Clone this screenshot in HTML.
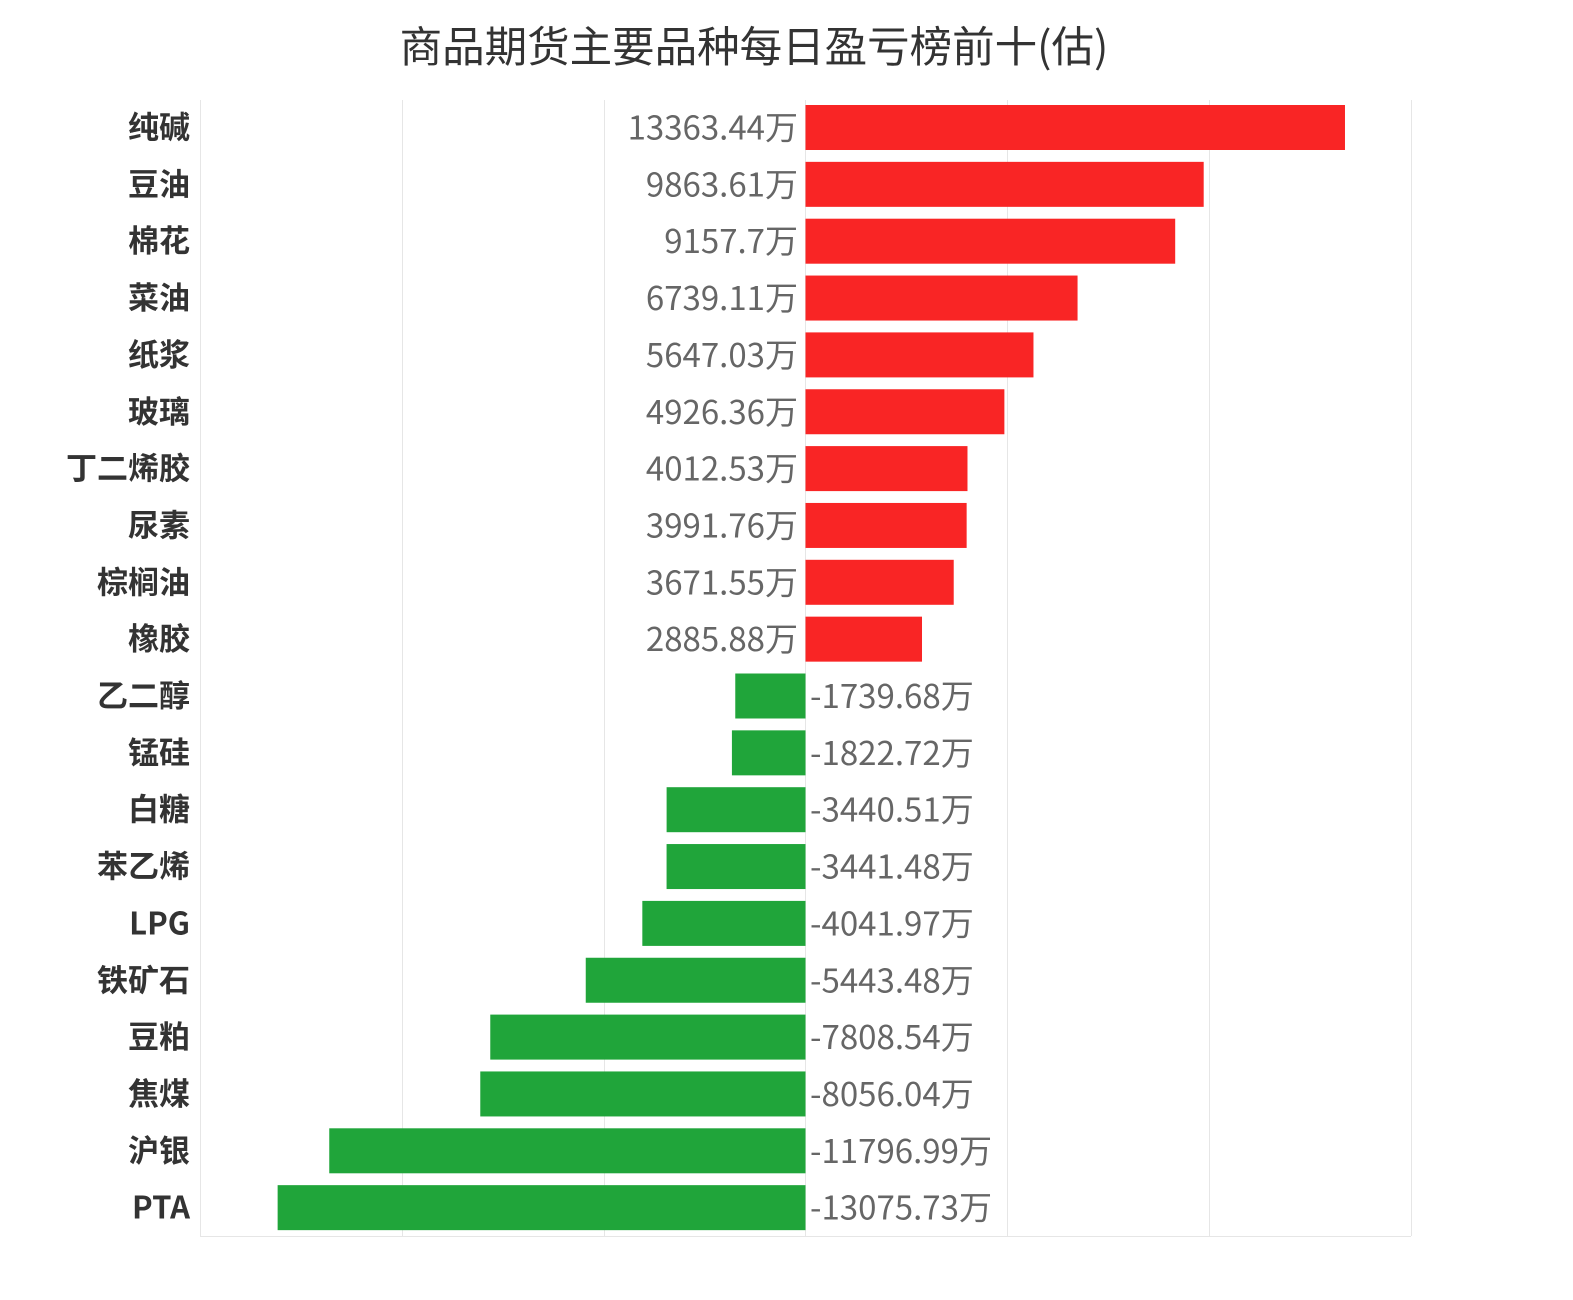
<!DOCTYPE html>
<html><head><meta charset="utf-8"><style>body{margin:0;background:#fff}svg{display:block}</style></head>
<body>
<svg width="1573" height="1300" xmlns="http://www.w3.org/2000/svg" font-family="'Noto Sans CJK SC','Liberation Sans',sans-serif">
<text x="754" y="62" text-anchor="middle" font-size="42.5" fill="#333">商品期货主要品种每日盈亏榜前十(估)</text>
<g stroke="#e6e6e6" stroke-width="1">
<line x1="200.5" y1="100" x2="200.5" y2="1236"/>
<line x1="402.5" y1="100" x2="402.5" y2="1236"/>
<line x1="604.5" y1="100" x2="604.5" y2="1236"/>
<line x1="805.5" y1="100" x2="805.5" y2="1236"/>
<line x1="1007.5" y1="100" x2="1007.5" y2="1236"/>
<line x1="1209.5" y1="100" x2="1209.5" y2="1236"/>
<line x1="1411.5" y1="100" x2="1411.5" y2="1236"/>
<line x1="200" y1="1236.5" x2="1411" y2="1236.5"/>
</g>
<g id="bars"></g>
</svg>
<script>
var d=[["纯碱",13363.44],["豆油",9863.61],["棉花",9157.7],["菜油",6739.11],["纸浆",5647.03],["玻璃",4926.36],["丁二烯胶",4012.53],["尿素",3991.76],["棕榈油",3671.55],["橡胶",2885.88],["乙二醇",-1739.68],["锰硅",-1822.72],["白糖",-3440.51],["苯乙烯",-3441.48],["LPG",-4041.97],["铁矿石",-5443.48],["豆粕",-7808.54],["焦煤",-8056.04],["沪银",-11796.99],["PTA",-13075.73]];
var g=document.getElementById('bars'),s='',k=0.04037,z=805.5;
d.forEach(function(r,i){var y=105+i*56.85,c=y+22.5,w=Math.abs(r[1])*k;
if(r[1]>0){s+='<rect x="'+z+'" y="'+y+'" width="'+w+'" height="45" fill="#f92525"/>';
s+='<text x="798" y="'+(c+12)+'" text-anchor="end" font-size="33" fill="#666">'+r[1]+'万</text>';}
else{s+='<rect x="'+(z-w)+'" y="'+y+'" width="'+w+'" height="45" fill="#20a53a"/>';
var t=r[1]+'万';s+='<text x="810" y="'+(c+12)+'" font-size="33" fill="#666" textLength="'+(t.length*18.2)+'" lengthAdjust="spacingAndGlyphs">'+t+'</text>';}
s+='<text x="190" y="'+(c+11)+'" text-anchor="end" font-size="31" font-weight="bold" fill="#333">'+r[0]+'</text>';});
g.innerHTML=s;
</script>
</body></html>
